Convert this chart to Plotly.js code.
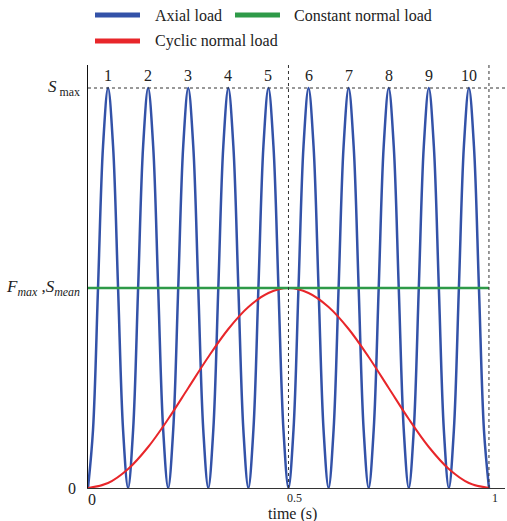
<!DOCTYPE html>
<html><head><meta charset="utf-8">
<script src="https://cdn.plot.ly/plotly-3.0.1.min.js"></script>
<style>html,body{margin:0;padding:0;background:#fff}</style>
</head><body><div id="chart" style="width:507px;height:521px"></div>
<script>
// ---- data ----
const axialTime = [0,0.0125,0.025,0.0375,0.05,0.0625,0.075,0.0875,0.1,0.1125,0.125,0.1375,0.15,0.1625,0.175,0.1875,0.2,0.2125,0.225,0.2375,0.25,0.2625,0.275,0.2875,0.3,0.3125,0.325,0.3375,0.35,0.3625,0.375,0.3875,0.4,0.4125,0.425,0.4375,0.45,0.4625,0.475,0.4875,0.5,0.5125,0.525,0.5375,0.55,0.5625,0.575,0.5875,0.6,0.6125,0.625,0.6375,0.65,0.6625,0.675,0.6875,0.7,0.7125,0.725,0.7375,0.75,0.7625,0.775,0.7875,0.8,0.8125,0.825,0.8375,0.85,0.8625,0.875,0.8875,0.9,0.9125,0.925,0.9375,0.95,0.9625,0.975,0.9875,1];
const axialLoad = [0,0.29,1,1.71,2,1.71,1,0.29,0,0.29,1,1.71,2,1.71,1,0.29,0,0.29,1,1.71,2,1.71,1,0.29,0,0.29,1,1.71,2,1.71,1,0.29,0,0.29,1,1.71,2,1.71,1,0.29,0,0.29,1,1.71,2,1.71,1,0.29,0,0.29,1,1.71,2,1.71,1,0.29,0,0.29,1,1.71,2,1.71,1,0.29,0,0.29,1,1.71,2,1.71,1,0.29,0,0.29,1,1.71,2,1.71,1,0.29,0];
const cyclicTime = [0,0.05,0.1,0.15,0.2,0.25,0.3,0.35,0.4,0.45,0.5,0.55,0.6,0.65,0.7,0.75,0.8,0.85,0.9,0.95,1];
const cyclicLoad = [0,0.025,0.095,0.205,0.345,0.5,0.655,0.795,0.905,0.975,1,0.975,0.905,0.795,0.655,0.5,0.345,0.205,0.095,0.025,0];
const constantTime = [0,1];
const constantLoad = [1,1];
const peakTimes = [0.05,0.15,0.25,0.35,0.45,0.55,0.65,0.75,0.85,0.95];
const cycleNumbers = ['1','2','3','4','5','6','7','8','9','10'];
const sMax = 2;
const guideTimes = [0.5,1];
const xTickVals = [0,0.5,1];
const xTickText = ['0','0.5','1'];
const yTickVals = [0,1,2];
const yTickText = ['0','<i>F</i><sub><i>max</i></sub> ,<i>S</i><sub><i>mean</i></sub>','<i>S</i><sub> max</sub>'];
const legendNames = ['Axial load','Constant normal load','Cyclic normal load'];
const xTitle = 'time (s)';

const BLUE = '#3352a8', GREEN = '#2e9a48', RED = '#e8262a';
const SERIF = 'Liberation Serif';

const traces = [
  {x: axialTime, y: axialLoad, name: legendNames[0], mode:'lines', line:{color:BLUE, width:2.5, shape:'spline', smoothing:1}, showlegend:false, hoverinfo:'skip'},
  {x: cyclicTime, y: cyclicLoad, name: legendNames[2], mode:'lines', line:{color:RED, width:2, shape:'spline', smoothing:1}, showlegend:false, hoverinfo:'skip'},
  {x: constantTime, y: constantLoad, name: legendNames[1], mode:'lines', line:{color:GREEN, width:2.5}, showlegend:false, hoverinfo:'skip'}
];

const shapes = [];
shapes.push({type:'line', xref:'paper', yref:'y', x0:0, x1:1, y0:sMax, y1:sMax, line:{color:'#333', width:1, dash:'3px,3px'}});
guideTimes.forEach(t => shapes.push({type:'line', xref:'x', yref:'paper', x0:t, x1:t, y0:0, y1:1, line:{color:'#333', width:1, dash:'3px,3px'}}));

const annotations = [];
peakTimes.forEach((t,i) => annotations.push({x:t, y:sMax, xref:'x', yref:'y', text:cycleNumbers[i], showarrow:false, yanchor:'bottom', yshift:2, font:{family:SERIF, size:16}}));
xTickVals.forEach((v,i) => annotations.push({x:v, y:0, xref:'x', yref:'paper', text:xTickText[i], showarrow:false, yanchor:'top', xanchor:'center', xshift:(i===0?4:6), yshift:-1, font:{family:SERIF, size:(i===0?16:12)}}));
yTickVals.forEach((v,i) => annotations.push({x:0, y:v, xref:'paper', yref:'y', text:yTickText[i], showarrow:false, xanchor:'right', xshift:(i===0?-10:-6), font:{family:SERIF, size:(i===0?16:17)}}));
annotations.push({x:0.5, y:0, xref:'x', yref:'paper', text:xTitle, showarrow:false, yanchor:'top', xshift:4, yshift:-15, font:{family:SERIF, size:16}});

// legend (swatch + label) placed above the plot, in paper coordinates
const legendSlots = [
  {sx0:0.0168, sx1:0.1247, tx:0.1559, y:1.1182, color:BLUE},
  {sx0:0.3525, sx1:0.4604, tx:0.4892, y:1.1182, color:GREEN},
  {sx0:0.0168, sx1:0.1247, tx:0.1559, y:1.0567, color:RED}
];
legendSlots.forEach((s,i) => {
  shapes.push({type:'line', xref:'paper', yref:'paper', x0:s.sx0, x1:s.sx1, y0:s.y, y1:s.y, line:{color:s.color, width:5}});
  annotations.push({x:s.tx, y:s.y, xref:'paper', yref:'paper', text:legendNames[i], showarrow:false, xanchor:'left', yanchor:'middle', font:{family:SERIF, size:16}});
});

const layout = {
  width:507, height:521,
  margin:{l:88, r:2, t:65, b:33},
  font:{family:SERIF, color:'#222'},
  showlegend:false,
  xaxis:{range:[0,1.04], showgrid:false, zeroline:false, showline:true, linecolor:'#333', linewidth:1.2, showticklabels:false, ticks:'', fixedrange:true},
  yaxis:{range:[0,2.115], showgrid:false, zeroline:false, showline:true, linecolor:'#111', linewidth:1.2, showticklabels:false, ticks:'', fixedrange:true},
  shapes: shapes,
  annotations: annotations
};
Plotly.newPlot('chart', traces, layout, {displayModeBar:false});
</script></body></html>
